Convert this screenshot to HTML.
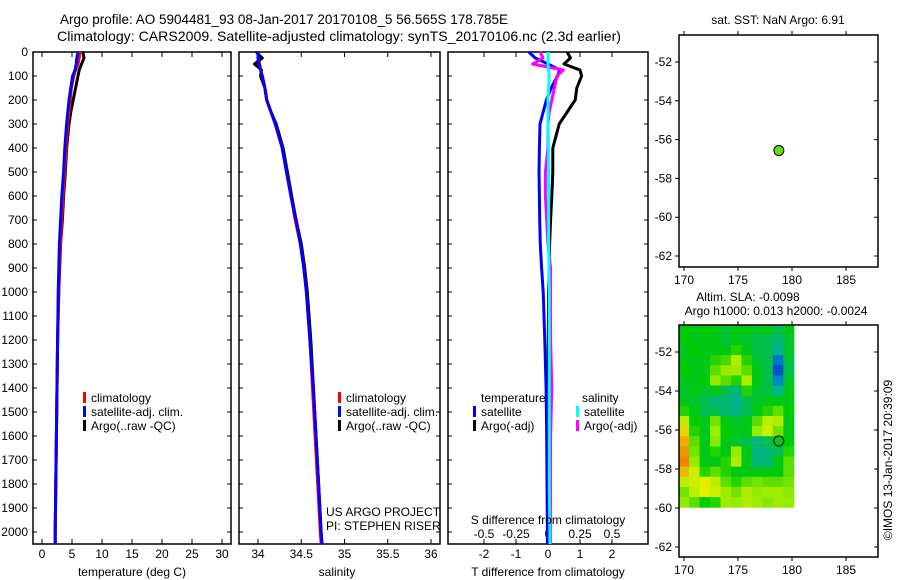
<!DOCTYPE html>
<html><head><meta charset="utf-8"><style>
html,body{margin:0;padding:0;background:#fff}
svg{display:block;font-family:"Liberation Sans",sans-serif;font-size:12px}
</style></head><body>
<svg id="fig" width="900" height="580" viewBox="0 0 900 580">
<text x="60" y="24" font-size="13.5" textLength="448" lengthAdjust="spacingAndGlyphs">Argo profile: AO 5904481_93 08-Jan-2017 20170108_5 56.565S 178.785E</text>
<text x="57" y="41" font-size="14" textLength="564" lengthAdjust="spacingAndGlyphs">Climatology: CARS2009. Satellite-adjusted climatology: synTS_20170106.nc (2.3d earlier)</text>
<g id="g"></g>
</svg>
<script>
// ---- data ----
const depths = [0,25,50,75,100,150,200,250,300,400,500,600,700,800,900,1000,1200,1400,1600,1800,2000,2050];
const tempClim = [6.3,6.2,6.0,5.6,5.3,4.9,4.7,4.5,4.3,4.0,3.8,3.5,3.3,3.1,2.9,2.8,2.6,2.5,2.4,2.3,2.2,2.2];
const tempSat  = [6.0,5.8,5.7,5.5,5.1,4.8,4.5,4.3,4.1,3.8,3.6,3.3,3.1,2.9,2.8,2.7,2.6,2.5,2.4,2.3,2.2,2.2];
const tempArgo = [6.8,7.0,6.6,6.2,6.0,5.6,5.2,4.8,4.5,4.1,3.9,3.6,3.4,3.1,2.95,2.8,2.6,2.5,2.4,2.3,2.2,2.2];
const salClim  = [34.0,34.0,34.02,34.03,34.05,34.08,34.1,34.15,34.2,34.28,34.33,34.38,34.43,34.49,34.53,34.56,34.6,34.63,34.66,34.69,34.72,34.73];
const salSat   = [34.0,34.0,34.01,34.03,34.05,34.08,34.1,34.15,34.2,34.28,34.33,34.38,34.44,34.49,34.53,34.56,34.6,34.64,34.67,34.7,34.73,34.74];
const salArgo  = [33.98,34.05,33.96,34.04,34.03,34.08,34.1,34.15,34.21,34.29,34.34,34.39,34.44,34.5,34.54,34.57,34.61,34.64,34.67,34.7,34.73,34.74];
const dTsat  = [-0.6,-0.4,0.0,0.37,0.3,0.1,-0.05,-0.15,-0.25,-0.27,-0.28,-0.27,-0.26,-0.24,-0.2,-0.15,-0.1,-0.06,-0.04,-0.03,-0.02,-0.02];
const dTargo = [0.6,0.7,0.5,1.0,1.05,0.9,0.85,0.6,0.35,0.15,0.15,0.12,0.08,0.05,0.04,0.02,0.01,0.0,0.0,-0.01,-0.01,-0.01];
const dSsat  = [0.0,0.0,0.0,0.005,0.01,0.005,0.0,0.0,0.0,0.005,0.005,0.005,0.005,0.005,0.008,0.01,0.01,0.01,0.01,0.01,0.015,0.015];
const dSargo = [-0.06,-0.04,-0.12,0.12,0.07,0.05,0.03,0.01,0.0,0.0,-0.02,-0.02,-0.01,0.0,0.02,0.02,0.02,0.03,0.02,0.02,0.02,0.02];
const depthTicks = [0,100,200,300,400,500,600,700,800,900,1000,1100,1200,1300,1400,1500,1600,1700,1800,1900,2000];
const tempTicks = [0,5,10,15,20,25,30];
const salTicks = [34,34.5,35,35.5,36];
const salTickLabels = ["34","34.5","35","35.5","36"];
const dTTicks = [-2,-1,0,1,2];
const dSTicks = [-0.5,-0.25,0,0.25,0.5];
const dSTickLabels = ["-0.5","-0.25","0","0.25","0.5"];
const lonTicks = [170,175,180,185];
const latTicks = [-52,-54,-56,-58,-60,-62];
const argoLon = 178.785, argoLat = -56.565;
const slaLon0 = 169.5, slaLonStep = 0.97, slaLat0 = -50.6, slaLatStep = 0.52;
const slaGrid = [
[0.5,0.5,0.52,0.5,0.48,0.5,0.5,0.48,0.5,0.45,0.5],
[0.52,0.5,0.5,0.5,0.47,0.5,0.48,0.46,0.45,0.42,0.48],
[0.5,0.52,0.5,0.5,0.5,0.55,0.5,0.46,0.45,0.35,0.48],
[0.5,0.5,0.5,0.55,0.58,0.68,0.55,0.48,0.45,0.15,0.46],
[0.52,0.5,0.5,0.6,0.65,0.66,0.6,0.5,0.45,0.08,0.45],
[0.5,0.5,0.52,0.65,0.6,0.55,0.68,0.5,0.45,0.18,0.48],
[0.48,0.5,0.48,0.5,0.45,0.4,0.55,0.48,0.46,0.35,0.5],
[0.5,0.48,0.45,0.4,0.42,0.35,0.45,0.48,0.5,0.5,0.5],
[0.55,0.5,0.45,0.45,0.42,0.38,0.45,0.5,0.55,0.6,0.52],
[0.7,0.52,0.5,0.62,0.5,0.48,0.5,0.6,0.7,0.68,0.5],
[0.8,0.55,0.5,0.66,0.52,0.5,0.5,0.65,0.72,0.62,0.5],
[0.88,0.6,0.5,0.64,0.5,0.48,0.45,0.4,0.45,0.5,0.52],
[0.92,0.62,0.5,0.55,0.5,0.65,0.5,0.38,0.4,0.45,0.55],
[0.95,0.65,0.5,0.5,0.55,0.68,0.5,0.4,0.42,0.5,0.6],
[0.85,0.72,0.55,0.6,0.55,0.5,0.5,0.5,0.5,0.5,0.6],
[0.7,0.72,0.75,0.7,0.6,0.55,0.6,0.62,0.6,0.6,0.62],
[0.62,0.7,0.75,0.72,0.66,0.62,0.68,0.65,0.66,0.66,0.64],
[0.65,0.6,0.52,0.55,0.66,0.65,0.68,0.66,0.64,0.66,0.65]
];
// ---- drawing ----
const NS="http://www.w3.org/2000/svg";
const root=document.getElementById('g');
function el(tag,attrs,parent,txt){const e=document.createElementNS(NS,tag);for(const k in attrs)e.setAttribute(k,attrs[k]);if(txt!==undefined)e.textContent=txt;(parent||root).appendChild(e);return e;}
const TOP=52,BOT=544;
const dy=d=>TOP+d*0.24;
const p1x=t=>42+t*6;
const p2x=s=>258+(s-34)*86.5;
const p3T=t=>548+t*32;
const p3S=s=>548+s*128;
const lonx=l=>684+(l-170)*10.8;
const laty1=l=>62+(-52-l)*19.4;
const laty2=l=>352+(-52-l)*19.5;

function panel(name,x0,x1){
  const b=el('rect',{x:x0,y:TOP,width:x1-x0,height:BOT-TOP,fill:'none',stroke:'#000','stroke-width':1.5});
  
  
  depthTicks.forEach(d=>{
    const t=el('path',{d:`M${x0},${dy(d)}h4M${x1},${dy(d)}h-4`,stroke:'#000'});
    
    
  });
}
function xticks(name,vals,labels,fx,ly){
  vals.forEach((v,i)=>{
    const x=fx(v);
    const t=el('path',{d:`M${x},${TOP}v5M${x},${BOT}v-5`,stroke:'#000'});
    
    
    if(ly){const l=el('text',{x:x,y:ly,'text-anchor':'middle'},null,labels[i]);
    
    }
  });
}
function line(name,xs,fx,color){
  const pts=depths.map((d,i)=>fx(xs[i]).toFixed(1)+','+dy(d).toFixed(1)).join(' ');
  const p=el('polyline',{points:pts,fill:'none',stroke:color,'stroke-width':3,'stroke-linejoin':'round'});
  
  
}
function legend(name,x,y,color,txt){
  const m=el('rect',{x:x,y:y-10,width:3,height:11,fill:color});
  
  
  const t=el('text',{x:x+8,y:y},null,txt);
  
  
}
panel('temperature-panel',33,231);
depthTicks.forEach(d=>{const l=el('text',{x:28,y:dy(d)+4,'text-anchor':'end'},null,String(d));

});
xticks('temperature-axis',tempTicks,tempTicks.map(String),p1x,558);
line('temperature-argo-line',tempArgo,p1x,'#000');
line('temperature-climatology-line',tempClim,p1x,'#f00');
line('temperature-satellite-line',tempSat,p1x,'#00f');
legend('temp-legend-climatology',83,402,'#f00','climatology');
legend('temp-legend-satellite',83,416,'#00f','satellite-adj. clim.');
legend('temp-legend-argo',83,430,'#000','Argo(..raw -QC)');
let t=el('text',{x:132,y:576,'text-anchor':'middle'},null,'temperature (deg C)');

panel('salinity-panel',239,440);
xticks('salinity-axis',salTicks,salTickLabels,p2x,558);
line('salinity-argo-line',salArgo,p2x,'#000');
line('salinity-climatology-line',salClim,p2x,'#f00');
line('salinity-satellite-line',salSat,p2x,'#00f');
legend('sal-legend-climatology',338,402,'#f00','climatology');
legend('sal-legend-satellite',338,416,'#00f','satellite-adj. clim.');
legend('sal-legend-argo',338,430,'#000','Argo(..raw -QC)');
t=el('text',{x:326,y:516},null,'US ARGO PROJECT');

t=el('text',{x:326,y:530},null,'PI: STEPHEN RISER');

t=el('text',{x:337,y:576,'text-anchor':'middle'},null,'salinity');

panel('difference-panel',448,648);
xticks('t-diff-axis',dTTicks,dTTicks.map(String),p3T,558);
dSTicks.forEach((v,i)=>{const l=el('text',{x:p3S(v),y:538,'text-anchor':'middle'},null,dSTickLabels[i]);
});
t=el('path',{d:`M548,${TOP}V${BOT}`,stroke:'#000','stroke-dasharray':'1,3'});

line('t-diff-argo-line',dTargo,p3T,'#000');
line('t-diff-satellite-line',dTsat,p3T,'#00f');
line('s-diff-argo-line',dSargo,p3S,'#f0f');
line('s-diff-satellite-line',dSsat,p3S,'#0ff');
t=el('text',{x:481,y:402},null,'temperature');

t=el('text',{x:582,y:402},null,'salinity');

legend('diff-legend-t-satellite',473,416,'#00f','satellite');
legend('diff-legend-t-argo',473,430,'#000','Argo(-adj)');
legend('diff-legend-s-satellite',576,416,'#0ff','satellite');
legend('diff-legend-s-argo',576,430,'#f0f','Argo(-adj)');
t=el('text',{x:548,y:524,'text-anchor':'middle'},null,'S difference from climatology');

t=el('text',{x:548,y:576,'text-anchor':'middle'},null,'T difference from climatology');

function mapAxes(name,y0,y1,fy){
  latTicks.forEach(v=>{const y=fy(v);
    const k=el('path',{d:`M679,${y}h-4M878,${y}h-4`,stroke:'#000'});
    
    const l=el('text',{x:672,y:y+4,'text-anchor':'end'},null,String(v));
    });
  lonTicks.forEach(v=>{const x=lonx(v);
    const k=el('path',{d:`M${x},${y0}v-4M${x},${y1}v4`,stroke:'#000'});
    
    const l=el('text',{x:x,y:y1+17,'text-anchor':'middle'},null,String(v));
    });
  const b=el('rect',{x:679,y:y0,width:199,height:y1-y0,fill:'none',stroke:'#000','stroke-width':1.5});
  
}
mapAxes('sst-map',35,267,laty1);
t=el('text',{x:778,y:24,'text-anchor':'middle'},null,'sat. SST: NaN Argo: 6.91');

t=el('circle',{cx:lonx(argoLon),cy:laty1(argoLat),r:5,fill:'#66dd11',stroke:'#000','stroke-width':1});

const stops=[[0,[0,40,200]],[0.25,[0,170,200]],[0.42,[0,185,110]],[0.52,[0,205,0]],[0.65,[150,235,0]],[0.75,[225,240,0]],[0.88,[240,170,0]],[1,[235,110,0]]];
function cmap(v){for(let i=1;i<stops.length;i++){if(v<=stops[i][0]){const a=stops[i-1],b=stops[i],f=(v-a[0])/(b[0]-a[0]);return 'rgb('+a[1].map((c,j)=>Math.round(c+(b[1][j]-c)*f)).join(',')+')';}}return 'rgb(235,110,0)';}
slaGrid.forEach((row,r)=>row.forEach((v,c)=>{
  const lonA=slaLon0+c*slaLonStep, latA=slaLat0-r*slaLatStep;
  const x0=Math.max(679,lonx(lonA)), x1=lonx(lonA+slaLonStep);
  const y0=laty2(latA), y1=laty2(latA-slaLatStep);
  const cell=el('rect',{x:x0,y:y0,width:x1-x0+0.5,height:y1-y0+0.5,fill:cmap(v)});
  
  
}));
mapAxes('sla-map',325,557,laty2);
t=el('text',{x:748,y:301,'text-anchor':'middle'},null,'Altim. SLA: -0.0098');

t=el('text',{x:776,y:315,'text-anchor':'middle'},null,'Argo h1000: 0.013 h2000: -0.0024');

t=el('circle',{cx:lonx(argoLon),cy:laty2(argoLat),r:5,fill:'none',stroke:'#000','stroke-width':1});

t=el('text',{x:892,y:460,'text-anchor':'middle',transform:'rotate(-90 892 460)'},null,'©IMOS 13-Jan-2017 20:39:09');

</script>
</body></html>
